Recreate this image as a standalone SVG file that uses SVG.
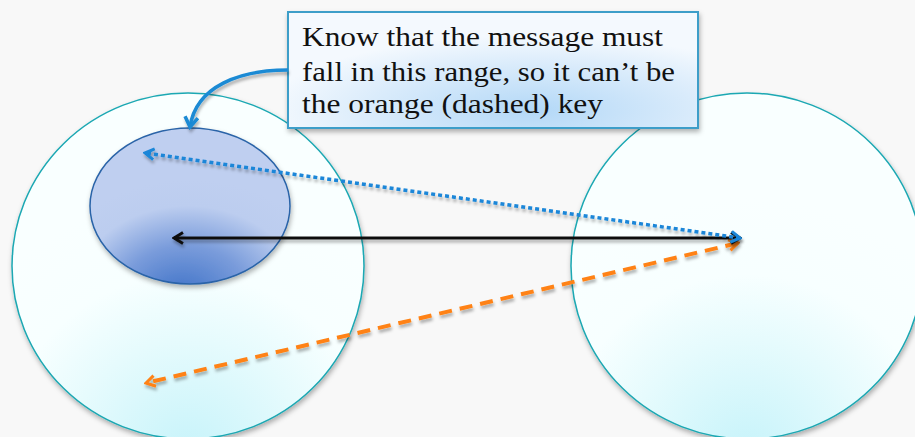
<svg xmlns="http://www.w3.org/2000/svg" width="915" height="437" viewBox="0 0 915 437">
  <defs>
    <style>
      .big { stroke: #1ba8b3; stroke-width: 1.5; fill: url(#cyanGrad); filter: url(#shadow); }
      .label { font-family: "Liberation Serif", "DejaVu Serif", serif; font-size: 27px; fill: #111; }
      .conn { fill: none; filter: url(#lineShadow); }
    </style>
    <radialGradient id="cyanGrad" cx="0.5" cy="1.05" r="0.75" fx="0.5" fy="1.05">
      <stop offset="0" stop-color="#c6f3fa"/>
      <stop offset="0.45" stop-color="#e6fbfd"/>
      <stop offset="0.7" stop-color="#f7ffff"/>
      <stop offset="1" stop-color="#f9ffff"/>
    </radialGradient>
    <radialGradient id="innerGrad" cx="0.5" cy="1.05" r="0.72" fx="0.45" fy="1.1">
      <stop offset="0" stop-color="#3a6fc6"/>
      <stop offset="0.45" stop-color="#7a9cdb"/>
      <stop offset="0.78" stop-color="#bccdef"/>
      <stop offset="1" stop-color="#bfcff0"/>
    </radialGradient>
    <radialGradient id="boxGrad" cx="0.6" cy="0.85" r="0.65">
      <stop offset="0" stop-color="#b3d8f7"/>
      <stop offset="0.6" stop-color="#d9ebfb"/>
      <stop offset="1" stop-color="#f4f9fe"/>
    </radialGradient>
    <filter id="shadow" x="-10%" y="-10%" width="120%" height="125%">
      <feDropShadow dx="1" dy="3" stdDeviation="2.5" flood-color="#000" flood-opacity="0.3"/>
    </filter>
    <filter id="lineShadow" filterUnits="userSpaceOnUse" x="0" y="0" width="915" height="437">
      <feDropShadow dx="1" dy="3" stdDeviation="1.5" flood-color="#000" flood-opacity="0.3"/>
    </filter>
    <marker id="arrBlue" markerUnits="userSpaceOnUse" viewBox="0 0 14 14" refX="12" refY="7" markerWidth="14" markerHeight="14" orient="auto-start-reverse">
      <path d="M3,1.5 L12,7 L3,12.5" fill="none" stroke="#1a86d8" stroke-width="3"/>
    </marker>
    <marker id="arrBlack" markerUnits="userSpaceOnUse" viewBox="0 0 14 14" refX="12" refY="7" markerWidth="14" markerHeight="14" orient="auto-start-reverse">
      <path d="M3,1.5 L12,7 L3,12.5" fill="none" stroke="#111" stroke-width="3"/>
    </marker>
    <marker id="arrOrange" markerUnits="userSpaceOnUse" viewBox="0 0 14 14" refX="12" refY="7" markerWidth="14" markerHeight="14" orient="auto-start-reverse">
      <path d="M3,1.5 L12,7 L3,12.5" fill="none" stroke="#ff8214" stroke-width="3"/>
    </marker>
    <marker id="arrCurve" markerUnits="userSpaceOnUse" viewBox="0 0 16 16" refX="13" refY="8" markerWidth="16" markerHeight="16" orient="auto">
      <path d="M3,1.5 L13,8 L3,14.5" fill="none" stroke="#1a8ad4" stroke-width="3.5"/>
    </marker>
  </defs>

  <rect x="0" y="0" width="915" height="437" fill="#f8f8f8"/>

  <g id="left-space">
    <ellipse class="big" cx="188" cy="266" rx="176" ry="173"/>
  </g>
  <g id="right-space">
    <ellipse class="big" cx="747" cy="266" rx="176" ry="173"/>
  </g>
  <g id="range">
    <ellipse cx="190" cy="206" rx="100" ry="78" fill="url(#innerGrad)" stroke="#2a64a8" stroke-width="1.5" filter="url(#shadow)"/>
  </g>

  <g id="callout">
    <rect x="288" y="12" width="410" height="116" fill="url(#boxGrad)" stroke="#3c9ec9" stroke-width="2" filter="url(#shadow)"/>
    <text class="label" x="302" y="46" textLength="361" lengthAdjust="spacingAndGlyphs">Know that the message must</text>
    <text class="label" x="302" y="81" textLength="373" lengthAdjust="spacingAndGlyphs">fall in this range, so it can’t be</text>
    <text class="label" x="302" y="113" textLength="301" lengthAdjust="spacingAndGlyphs">the orange (dashed) key</text>
  </g>

  <g id="connectors">
    <path class="conn" d="M288,70 C240,70 196,86 190,127" stroke="#1a8ad4" stroke-width="3.5" marker-end="url(#arrCurve)"/>
    <line class="conn" x1="738" y1="243" x2="146" y2="383" stroke="#ff8214" stroke-width="4" stroke-dasharray="13,8" marker-start="url(#arrOrange)" marker-end="url(#arrOrange)"/>
    <line class="conn" x1="740" y1="238" x2="174" y2="238" stroke="#111" stroke-width="3" marker-start="url(#arrBlack)" marker-end="url(#arrBlack)"/>
    <line class="conn" x1="740" y1="238" x2="145" y2="153" stroke="#1a86d8" stroke-width="3.5" stroke-dasharray="4,3" marker-start="url(#arrBlue)" marker-end="url(#arrBlue)"/>
  </g>
</svg>
